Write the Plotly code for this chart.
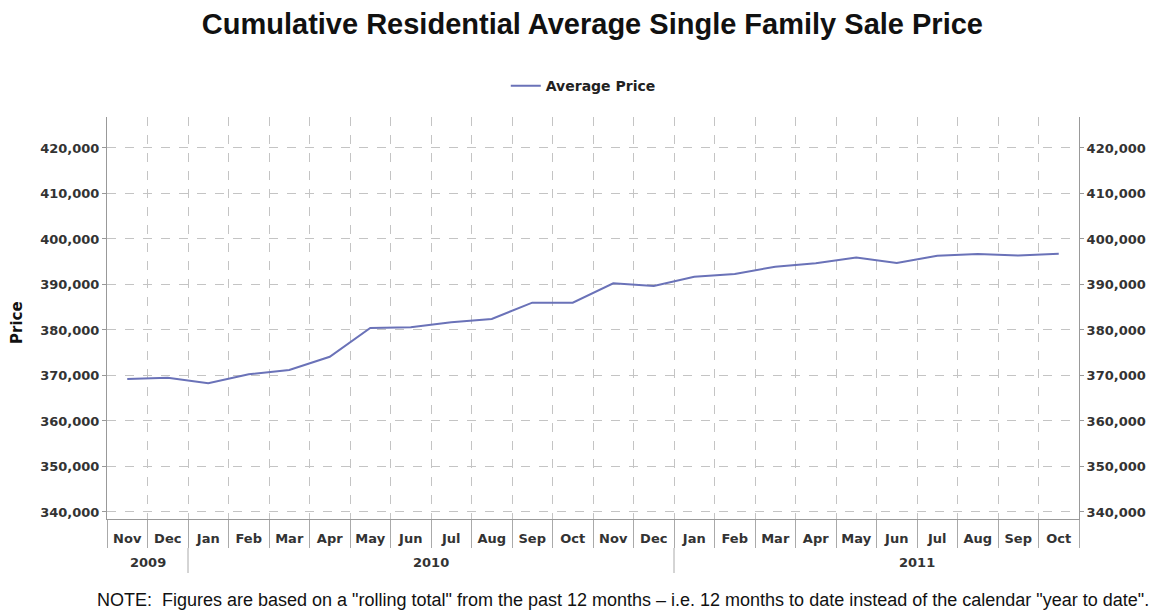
import plotly.graph_objects as go

months = ["Nov", "Dec", "Jan", "Feb", "Mar", "Apr", "May", "Jun", "Jul", "Aug", "Sep", "Oct",
          "Nov", "Dec", "Jan", "Feb", "Mar", "Apr", "May", "Jun", "Jul", "Aug", "Sep", "Oct"]
years = ["2009", "2010", "2011"]
year_centers = [0.5, 7.5, 19.5]
year_breaks = [1.5, 13.5]
avg_price = [369200, 369500, 368300, 370250, 371200, 374100, 380450, 380600, 381700, 382400,
             386000, 386000, 390250, 389650, 391700, 392300, 393900, 394650, 395900, 394700,
             396300, 396700, 396350, 396750]
y_ticks = [340000, 350000, 360000, 370000, 380000, 390000, 400000, 410000, 420000]

x_idx = list(range(len(months)))
line_color = "#6a72b8"
grid_color = "#c4c4c4"
tick_font = dict(family="DejaVu Sans", size=13, color="#333333", weight="bold")

fig = go.Figure()
fig.add_trace(go.Scatter(x=x_idx, y=avg_price, mode="lines", name="Average Price",
                         line=dict(color=line_color, width=2)))
fig.add_trace(go.Scatter(x=x_idx, y=avg_price, mode="lines", yaxis="y2", showlegend=False,
                         hoverinfo="skip", line=dict(color="rgba(0,0,0,0)", width=0)))

yr = [338450, 426800]
fig.update_layout(
    width=1157, height=610,
    margin=dict(l=107, r=78, t=117, b=91),
    paper_bgcolor="white", plot_bgcolor="white",
    title=dict(text="<b>Cumulative Residential Average Single Family Sale Price</b>",
               x=0.512, xanchor="center", y=1 - 24 / 610, yanchor="middle",
               font=dict(family="Liberation Sans", size=29, color="#111111")),
    legend=dict(orientation="h", x=0.49, xanchor="center", y=1.077, yanchor="middle",
                font=dict(family="DejaVu Sans", size=14, color="#222222", weight="bold"),
                bgcolor="rgba(0,0,0,0)", itemwidth=30),
    showlegend=True,
    xaxis=dict(range=[-0.5, 23.5], tickmode="array", tickvals=x_idx, ticktext=months,
               ticks="", showgrid=False, zeroline=False, ticklabelstandoff=7,
               showline=True, linecolor="#999999", linewidth=1,
               tickfont=tick_font,
               minor=dict(tickmode="linear", tick0=-0.5, dtick=1, ticks="outside", ticklen=28,
                          tickcolor="#aaaaaa", tickwidth=1, showgrid=True,
                          gridcolor=grid_color, griddash="dash", gridwidth=1)),
    yaxis=dict(range=yr, tickmode="array", tickvals=y_ticks, tickformat=",d",
               ticks="outside", ticklen=4, tickcolor="#999999",
               showgrid=True, gridcolor=grid_color, griddash="dash", gridwidth=1,
               zeroline=False, showline=True, linecolor="#999999", linewidth=1,
               tickfont=tick_font),
    yaxis2=dict(range=yr, overlaying="y", side="right", tickmode="array", tickvals=y_ticks,
                tickformat=",d", ticks="outside", ticklen=4, tickcolor="#999999",
                showgrid=False, zeroline=False, showline=True, linecolor="#999999",
                linewidth=1, tickfont=tick_font),
)

for yv, xc in zip(years, year_centers):
    fig.add_annotation(x=xc, xref="x", y=(519 - 562) / 402, yref="paper", text=yv,
                       showarrow=False, font=tick_font, yanchor="middle")
for xb in year_breaks:
    fig.add_shape(type="line", xref="x", yref="paper", x0=xb, x1=xb,
                  y0=(519 - 548) / 402, y1=(519 - 573) / 402,
                  line=dict(color="#aaaaaa", width=1))

fig.add_annotation(xref="paper", yref="paper", x=(17 - 107) / 972, xanchor="center",
                   y=(519 - 323) / 402, yanchor="middle", text="<b>Price</b>",
                   textangle=-90, showarrow=False,
                   font=dict(family="DejaVu Sans", size=15, color="#111111"))
fig.add_annotation(xref="paper", yref="paper", x=(95 - 107) / 972, xanchor="left",
                   y=(519 - 600) / 402, yanchor="middle",
                   text='NOTE:  Figures are based on a "rolling total" from the past 12 months \u2013 i.e. 12 months to date instead of the calendar "year to date".',
                   showarrow=False, font=dict(family="Liberation Sans", size=18, color="#111111"))

fig.write_html("out.html")
